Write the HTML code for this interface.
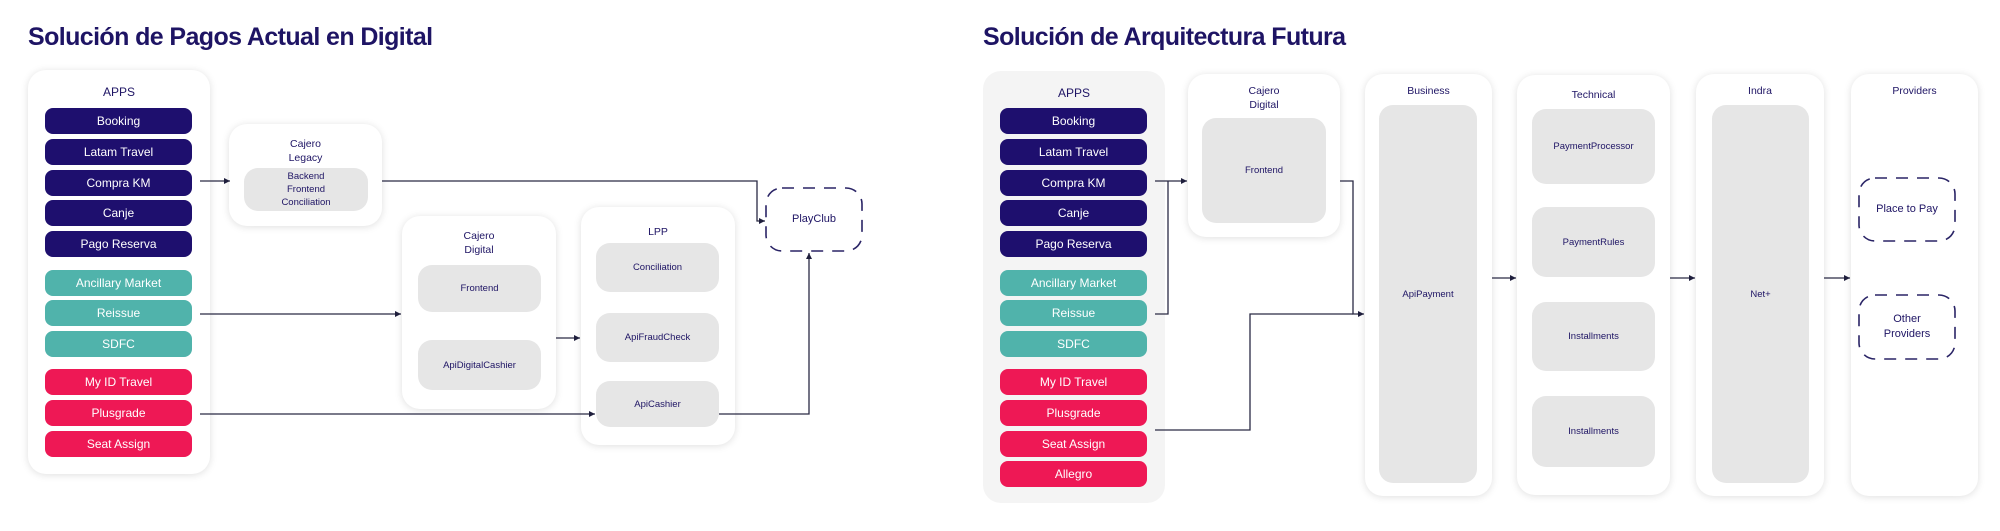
<!DOCTYPE html>
<html><head><meta charset="utf-8"><style>
*{margin:0;padding:0;box-sizing:border-box}
body{width:2000px;height:531px;background:#fff;position:relative;overflow:hidden;font-family:"Liberation Sans",sans-serif;color:#1e1464}
.a{position:absolute}
.t{font-size:25px;font-weight:bold;color:#1e1464;letter-spacing:-0.6px}
.box{position:absolute;background:#fff;border-radius:18px;box-shadow:0 1px 8px rgba(0,0,0,0.13)}
.lbl{position:absolute;left:0;right:0;text-align:center;font-size:11px;line-height:14px;color:#1e1464}
.pill{position:absolute;height:26px;border-radius:8px;color:#fff;font-size:12px;line-height:26px;text-align:center}
.n{background:#1e0f6e}.g{background:#50b3ab}.p{background:#ee1855}
.gr{position:absolute;background:#e6e6e6;border-radius:14px;display:flex;align-items:center;justify-content:center;text-align:center;font-size:9.5px;line-height:13px;color:#1e1464}
.dash{position:absolute;display:flex;align-items:center;justify-content:center;text-align:center;font-size:11px;line-height:15px;color:#1e1464}
</style></head><body>
<div class="a t" style="left:28px;top:23px">Solución de Pagos Actual en Digital</div>
<div class="a t" style="left:983px;top:23px">Solución de Arquitectura Futura</div>

<!-- LEFT -->
<div class="box" style="left:28px;top:70px;width:182px;height:404px"><div class="lbl" style="top:15px;font-size:12px">APPS</div></div>
<div class="pill n" style="left:45px;top:108px;width:147px">Booking</div>
<div class="pill n" style="left:45px;top:139px;width:147px">Latam Travel</div>
<div class="pill n" style="left:45px;top:170px;width:147px">Compra KM</div>
<div class="pill n" style="left:45px;top:200px;width:147px">Canje</div>
<div class="pill n" style="left:45px;top:231px;width:147px">Pago Reserva</div>
<div class="pill g" style="left:45px;top:270px;width:147px">Ancillary Market</div>
<div class="pill g" style="left:45px;top:300px;width:147px">Reissue</div>
<div class="pill g" style="left:45px;top:331px;width:147px">SDFC</div>
<div class="pill p" style="left:45px;top:369px;width:147px">My ID Travel</div>
<div class="pill p" style="left:45px;top:400px;width:147px">Plusgrade</div>
<div class="pill p" style="left:45px;top:431px;width:147px">Seat Assign</div>

<div class="box" style="left:229px;top:124px;width:153px;height:102px"><div class="lbl" style="top:13px;font-size:10.5px">Cajero<br>Legacy</div></div>
<div class="gr" style="left:244px;top:168px;width:124px;height:43px">Backend<br>Frontend<br>Conciliation</div>

<div class="box" style="left:402px;top:216px;width:154px;height:193px"><div class="lbl" style="top:13px;font-size:10.5px">Cajero<br>Digital</div></div>
<div class="gr" style="left:418px;top:265px;width:123px;height:47px">Frontend</div>
<div class="gr" style="left:418px;top:340px;width:123px;height:50px">ApiDigitalCashier</div>

<div class="box" style="left:581px;top:207px;width:154px;height:238px"><div class="lbl" style="top:18px;font-size:10.5px">LPP</div></div>
<div class="gr" style="left:596px;top:243px;width:123px;height:49px">Conciliation</div>
<div class="gr" style="left:596px;top:313px;width:123px;height:49px">ApiFraudCheck</div>
<div class="gr" style="left:596px;top:381px;width:123px;height:46px">ApiCashier</div>

<!-- RIGHT -->
<div class="a" style="left:983px;top:71px;width:182px;height:432px;background:#f4f4f4;border-radius:18px"><div class="lbl" style="top:15px;font-size:12px">APPS</div></div>
<div class="pill n" style="left:1000px;top:108px;width:147px">Booking</div>
<div class="pill n" style="left:1000px;top:139px;width:147px">Latam Travel</div>
<div class="pill n" style="left:1000px;top:170px;width:147px">Compra KM</div>
<div class="pill n" style="left:1000px;top:200px;width:147px">Canje</div>
<div class="pill n" style="left:1000px;top:231px;width:147px">Pago Reserva</div>
<div class="pill g" style="left:1000px;top:270px;width:147px">Ancillary Market</div>
<div class="pill g" style="left:1000px;top:300px;width:147px">Reissue</div>
<div class="pill g" style="left:1000px;top:331px;width:147px">SDFC</div>
<div class="pill p" style="left:1000px;top:369px;width:147px">My ID Travel</div>
<div class="pill p" style="left:1000px;top:400px;width:147px">Plusgrade</div>
<div class="pill p" style="left:1000px;top:431px;width:147px">Seat Assign</div>
<div class="pill p" style="left:1000px;top:461px;width:147px">Allegro</div>

<div class="box" style="left:1188px;top:74px;width:152px;height:163px"><div class="lbl" style="top:10px;font-size:10.5px">Cajero<br>Digital</div></div>
<div class="gr" style="left:1202px;top:118px;width:124px;height:105px">Frontend</div>

<div class="box" style="left:1365px;top:74px;width:127px;height:422px"><div class="lbl" style="top:10px;font-size:10.5px">Business</div></div>
<div class="gr" style="left:1379px;top:105px;width:98px;height:378px">ApiPayment</div>

<div class="box" style="left:1517px;top:75px;width:153px;height:420px"><div class="lbl" style="top:13px;font-size:10.5px">Technical</div></div>
<div class="gr" style="left:1532px;top:109px;width:123px;height:75px">PaymentProcessor</div>
<div class="gr" style="left:1532px;top:207px;width:123px;height:70px">PaymentRules</div>
<div class="gr" style="left:1532px;top:302px;width:123px;height:69px">Installments</div>
<div class="gr" style="left:1532px;top:396px;width:123px;height:71px">Installments</div>

<div class="box" style="left:1696px;top:74px;width:128px;height:422px"><div class="lbl" style="top:10px;font-size:10.5px">Indra</div></div>
<div class="gr" style="left:1712px;top:105px;width:97px;height:378px">Net+</div>

<div class="box" style="left:1851px;top:74px;width:127px;height:422px"><div class="lbl" style="top:10px;font-size:10.5px">Providers</div></div>

<svg class="a" style="left:0;top:0" width="2000" height="531">
<defs><marker id="ar" markerWidth="8" markerHeight="8" refX="6" refY="3" orient="auto" markerUnits="userSpaceOnUse"><path d="M0,0 L6,3 L0,6 z" fill="#1e1e3c"/></marker></defs>
<g fill="none" stroke="#2a2a44" stroke-width="1.3">
<rect x="766" y="188" width="96" height="63" rx="16" stroke="#2a2466" stroke-dasharray="12 9" stroke-width="1.6"/>
<rect x="1859" y="178" width="96" height="63" rx="16" stroke="#2a2466" stroke-dasharray="12 9" stroke-width="1.6"/>
<rect x="1859" y="295" width="96" height="64" rx="16" stroke="#2a2466" stroke-dasharray="12 9" stroke-width="1.6"/>
<path d="M200,181 H230" marker-end="url(#ar)"/>
<path d="M382,181 H757 V221 H765" marker-end="url(#ar)"/>
<path d="M200,314 H401" marker-end="url(#ar)"/>
<path d="M556,338 H580" marker-end="url(#ar)"/>
<path d="M200,414 H595" marker-end="url(#ar)"/>
<path d="M719,414 H809 V253" marker-end="url(#ar)"/>
<path d="M1155,181 H1187" marker-end="url(#ar)"/>
<path d="M1155,314 H1168 V181"/>
<path d="M1340,181 H1353 V314 H1364" marker-end="url(#ar)"/>
<path d="M1155,430 H1250 V314 H1353"/>
<path d="M1492,278 H1516" marker-end="url(#ar)"/>
<path d="M1670,278 H1695" marker-end="url(#ar)"/>
<path d="M1824,278 H1850" marker-end="url(#ar)"/>
</g></svg>
<div class="dash" style="left:766px;top:188px;width:96px;height:63px">PlayClub</div>
<div class="dash" style="left:1859px;top:178px;width:96px;height:63px">Place to Pay</div>
<div class="dash" style="left:1859px;top:295px;width:96px;height:64px">Other<br>Providers</div>
</body></html>
